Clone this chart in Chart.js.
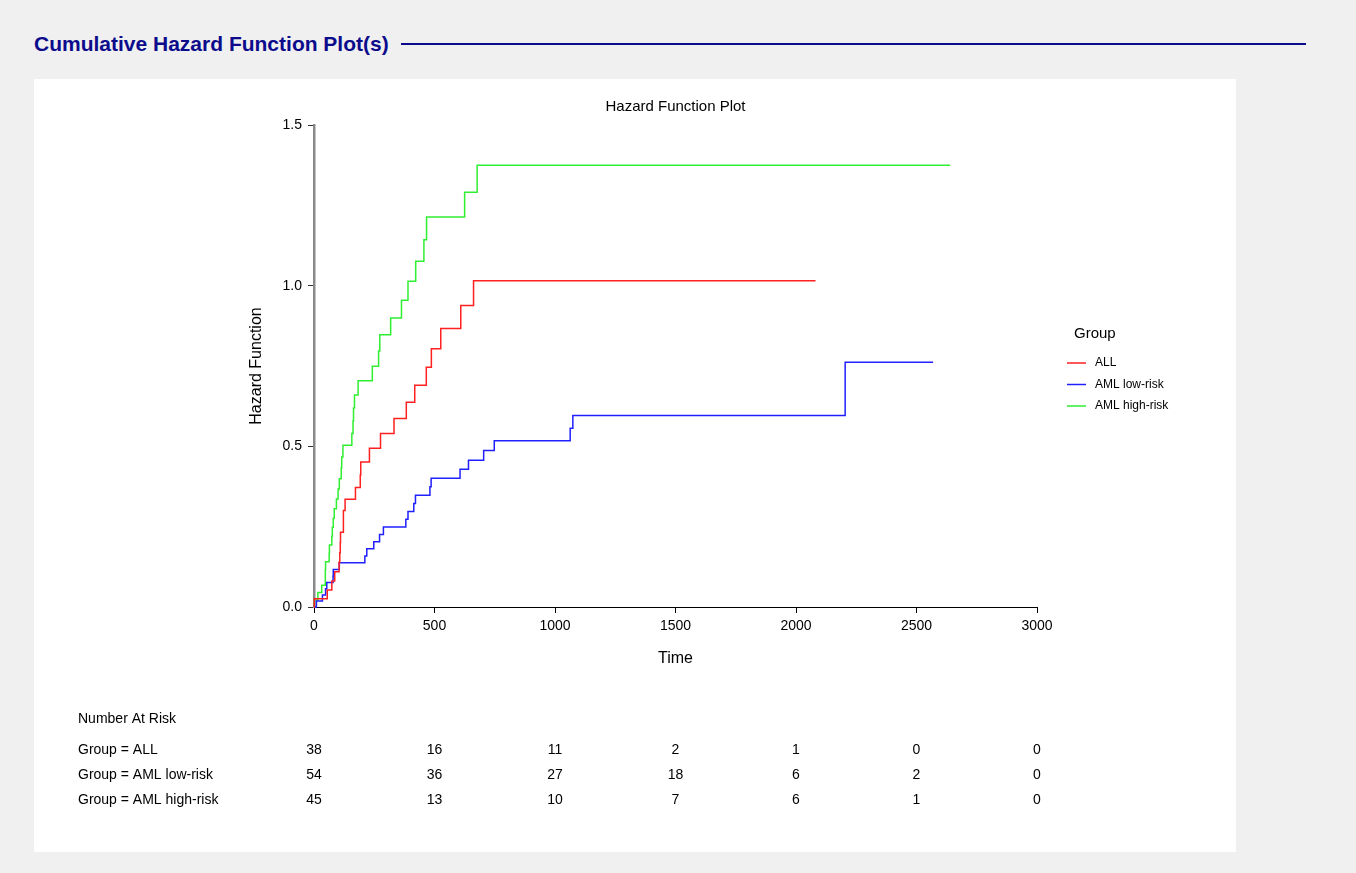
<!DOCTYPE html>
<html>
<head>
<meta charset="utf-8">
<title>Cumulative Hazard Function Plot(s)</title>
<script src="https://cdn.jsdelivr.net/npm/chart.js@4/dist/chart.umd.min.js"></script>
<style>
  body { margin: 0; background: #f0f0f0; font-family: Arial, "Liberation Sans", sans-serif; }
  #header { position: absolute; left: 34px; top: 32px; font-size: 21px; font-weight: bold; color: #0b0b8c; white-space: nowrap; }
  #rule { position: absolute; left: 401px; top: 43px; width: 905px; height: 2px; background: #0b0b8c; }
  #panel { position: absolute; left: 34px; top: 79px; width: 1202px; height: 773px; background: #fff; }
</style>
</head>
<body>
<div id="header">Cumulative Hazard Function Plot(s)</div>
<div id="rule"></div>
<div id="panel"><canvas id="hazardChart"></canvas></div>
<script>
// step points (time, cumulative hazard)
const allTimes = [0, 1, 55, 74, 86, 104, 107, 109, 110, 122, 129, 172, 192, 194, 230, 276, 332, 383, 418, 466, 487, 526, 609, 662, 2081];
const allHazard = [0, 0.026, 0.053, 0.081, 0.110, 0.139, 0.169, 0.201, 0.233, 0.300, 0.335, 0.372, 0.411, 0.451, 0.494, 0.540, 0.587, 0.637, 0.690, 0.746, 0.804, 0.867, 0.938, 1.015, 1.015];

const lowTimes = [0, 10, 35, 48, 53, 79, 80, 105, 211, 219, 248, 272, 288, 381, 390, 414, 421, 481, 486, 606, 641, 704, 748, 1063, 1074, 2204, 2569];
const lowHazard = [0, 0.019, 0.037, 0.057, 0.076, 0.096, 0.117, 0.138, 0.159, 0.181, 0.203, 0.226, 0.249, 0.273, 0.297, 0.322, 0.348, 0.374, 0.401, 0.429, 0.457, 0.487, 0.517, 0.556, 0.596, 0.762, 0.762];

const highTimes = [0, 2, 16, 32, 47, 48, 63, 64, 74, 76, 80, 84, 93, 100, 105, 113, 115, 120, 157, 162, 164, 168, 183, 242, 268, 273, 318, 363, 390, 422, 456, 467, 625, 677, 2640];
const highHazard = [0, 0.022, 0.045, 0.068, 0.116, 0.141, 0.167, 0.193, 0.220, 0.248, 0.276, 0.306, 0.336, 0.367, 0.399, 0.433, 0.467, 0.503, 0.540, 0.579, 0.619, 0.660, 0.704, 0.749, 0.797, 0.847, 0.899, 0.955, 1.014, 1.076, 1.143, 1.214, 1.291, 1.375, 1.375];

const groupNames = ["ALL", "AML low-risk", "AML high-risk"];
const groupColors = ["#ff2020", "#2020ff", "#30ee30"];

// number at risk table
const riskTimes = [0, 500, 1000, 1500, 2000, 2500, 3000];
const riskALL = [38, 16, 11, 2, 1, 0, 0];
const riskLow = [54, 36, 27, 18, 6, 2, 0];
const riskHigh = [45, 13, 10, 7, 6, 1, 0];

const FONT = "Arial, 'Liberation Sans', sans-serif";

function toPoints(xs, ys) {
  return xs.map((t, i) => ({ x: t, y: ys[i] }));
}

const seriesTimes = [allTimes, lowTimes, highTimes];
const seriesHazard = [allHazard, lowHazard, highHazard];

const datasets = groupNames.map((name, i) => ({
  label: name,
  data: toPoints(seriesTimes[i], seriesHazard[i]),
  borderColor: groupColors[i],
  backgroundColor: groupColors[i],
  borderWidth: 1.5,
  pointRadius: 0,
  stepped: true,
  fill: false,
  clip: false
}));

// plot title, legend and number at risk table
const extras = {
  id: "extras",
  afterDraw(chart) {
    const ctx = chart.ctx;
    const xs = chart.scales.x;
    const area = chart.chartArea;
    ctx.save();
    ctx.fillStyle = "#000";
    ctx.textBaseline = "middle";

    // title centred over the plot area
    ctx.font = "15px " + FONT;
    ctx.textAlign = "center";
    ctx.fillText("Hazard Function Plot", (area.left + area.right) / 2, 28);

    // legend
    ctx.textAlign = "left";
    ctx.fillText("Group", 1040, 255);
    ctx.font = "12px " + FONT;
    chart.data.datasets.forEach((ds, i) => {
      const y = 284 + i * 21.5;
      ctx.strokeStyle = ds.borderColor;
      ctx.lineWidth = 1.5;
      ctx.beginPath();
      ctx.moveTo(1033, y);
      ctx.lineTo(1052, y);
      ctx.stroke();
      ctx.fillStyle = "#000";
      ctx.fillText(ds.label, 1061, y);
    });

    // number at risk
    ctx.font = "14px " + FONT;
    ctx.fillText("Number At Risk", 44, 640);
    const rows = [riskALL, riskLow, riskHigh];
    rows.forEach((row, r) => {
      const y = 671 + r * 25;
      ctx.textAlign = "left";
      ctx.fillText("Group = " + groupNames[r], 44, y);
      ctx.textAlign = "center";
      row.forEach((n, i) => {
        ctx.fillText(String(n), xs.getPixelForValue(riskTimes[i]), y);
      });
    });
    ctx.restore();
  }
};

new Chart(document.getElementById("hazardChart"), {
  type: "line",
  data: { datasets: datasets },
  options: {
    responsive: true,
    maintainAspectRatio: false,
    animation: false,
    layout: { padding: { left: 209, right: 199, top: 46, bottom: 180 } },
    plugins: {
      legend: { display: false },
      tooltip: { enabled: false },
      title: { display: false }
    },
    scales: {
      x: {
        type: "linear",
        min: 0,
        max: 3000,
        afterFit: s => { s.height = 65; },
        ticks: { stepSize: 500, color: "#000", padding: 5, font: { family: FONT, size: 14 }, callback: v => String(v) },
        grid: { drawOnChartArea: false, color: "#000", tickLength: 6 },
        border: { color: "#000", width: 1 },
        title: { display: true, text: "Time", color: "#000", font: { family: FONT, size: 16 } }
      },
      y: {
        min: 0,
        max: 1.5,
        afterFit: s => { s.width = 71; },
        ticks: {
          stepSize: 0.5,
          color: "#000",
          padding: 6,
          font: { family: FONT, size: 14 },
          callback: v => v.toFixed(1)
        },
        grid: { drawOnChartArea: false, color: "#333", tickLength: 6 },
        border: { color: "#8a8a8a", width: 2.5 },
        title: { display: true, text: "Hazard Function", color: "#000", font: { family: FONT, size: 16 } }
      }
    }
  },
  plugins: [extras]
});
</script>
</body>
</html>
